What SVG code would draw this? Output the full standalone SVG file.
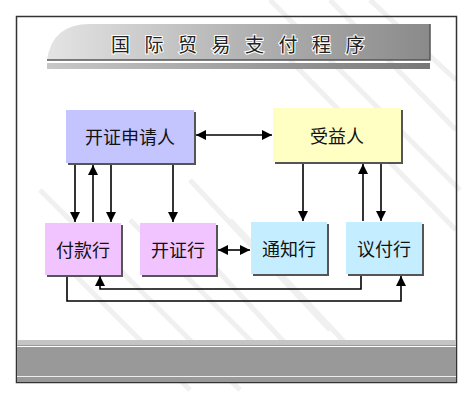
<svg xmlns="http://www.w3.org/2000/svg" width="472" height="400" viewBox="0 0 472 400">
<defs>
<linearGradient id="tg" x1="0" y1="0" x2="1" y2="0">
<stop offset="0" stop-color="#e4e4e4"/>
<stop offset="0.5" stop-color="#b4b4b4"/>
<stop offset="1" stop-color="#8a8a8a"/>
</linearGradient>
<linearGradient id="sg" x1="0" y1="0" x2="1" y2="0">
<stop offset="0" stop-color="#c8c8c8"/>
<stop offset="1" stop-color="#777"/>
</linearGradient>
<marker id="ah" viewBox="0 0 10 10" refX="10" refY="5" markerWidth="10" markerHeight="10" markerUnits="userSpaceOnUse" orient="auto-start-reverse">
<path d="M0,0 L10,5 L0,10 z" fill="#000"/>
</marker>
<style>
.box{stroke:none}
.sh{fill:#555}
.lbl{font-family:"Noto Sans CJK SC","Liberation Sans",sans-serif;font-size:18px;fill:#111;text-anchor:middle;dominant-baseline:central}
.ttl{font-family:"Noto Sans CJK SC","Liberation Sans",sans-serif;font-size:19px;fill:#222;stroke:#fff;stroke-width:2;paint-order:stroke;text-anchor:middle;dominant-baseline:central;letter-spacing:14.5px}
.c{fill:none;stroke:#000;stroke-width:1.6}
.wm{fill:none;stroke:#f0f0f0;stroke-width:5}
</style>
</defs>
<rect width="472" height="400" fill="#fff"/>
<g id="watermark">
<path class="wm" d="M40,190 L240,390"/>
<path class="wm" d="M60,260 L190,390"/>
<path class="wm" d="M190,180 L330,330"/>
<path class="wm" d="M180,230 L310,370"/>
<path class="wm" d="M230,220 L380,380"/>
<path class="wm" d="M270,0 L460,190"/>
<path class="wm" d="M330,0 L456,130"/>
<path class="wm" d="M370,0 L456,80"/>
<path class="wm" d="M290,60 L456,230"/>
<path class="wm" d="M130,220 L290,380"/>
</g>
<rect x="16.5" y="16.5" width="440" height="366" fill="none" stroke="#333" stroke-width="1.5"/>
<g id="title">
<path d="M47,60 Q52,24 90,24 L430,24 L430,60 Z" fill="url(#tg)"/>
<path d="M430,24 L430,60 L47,60" fill="none" stroke="#555" stroke-width="1.5"/>
<rect x="47" y="63" width="383" height="6" fill="url(#sg)"/>
<text class="ttl" x="245" y="43">国际贸易支付程序</text>
</g>
<g id="bottombar">
<rect x="17" y="340" width="439" height="42" fill="#999"/>
<rect x="17" y="340" width="439" height="5" fill="#c4c4c4"/>
<line x1="17" y1="346.5" x2="456" y2="346.5" stroke="#fff" stroke-width="1"/>
<line x1="17" y1="376.5" x2="456" y2="376.5" stroke="#eee" stroke-width="1.2"/>
</g>
<g id="n-applicant">
<rect class="sh" x="68" y="112" width="128" height="53"/>
<rect class="box" x="66" y="110" width="128" height="53" fill="#c4c4ff"/>
<text class="lbl" x="130" y="136">开证申请人</text>
</g>
<g id="n-beneficiary">
<rect class="sh" x="275" y="110" width="128" height="54"/>
<rect class="box" x="273" y="108" width="128" height="54" fill="#ffffc4"/>
<text class="lbl" x="337" y="135">受益人</text>
</g>
<g id="n-paying">
<rect class="sh" x="47" y="225" width="76" height="52"/>
<rect class="box" x="45" y="223" width="76" height="52" fill="#f2c4ff"/>
<text class="lbl" x="83" y="249">付款行</text>
</g>
<g id="n-issuing">
<rect class="sh" x="142" y="225" width="76" height="52"/>
<rect class="box" x="140" y="223" width="76" height="52" fill="#f2c4ff"/>
<text class="lbl" x="178" y="249">开证行</text>
</g>
<g id="n-advising">
<rect class="sh" x="253" y="224" width="76" height="52"/>
<rect class="box" x="251" y="222" width="76" height="52" fill="#c4eeff"/>
<text class="lbl" x="289" y="248">通知行</text>
</g>
<g id="n-negotiating">
<rect class="sh" x="348" y="224" width="76" height="52"/>
<rect class="box" x="346" y="222" width="76" height="52" fill="#c4eeff"/>
<text class="lbl" x="384" y="248">议付行</text>
</g>
<g id="connectors">
<path class="c" d="M196,135 L272,135" marker-start="url(#ah)" marker-end="url(#ah)"/>
<path class="c" d="M75,165 L75,222" marker-end="url(#ah)"/>
<path class="c" d="M93,222 L93,165" marker-end="url(#ah)"/>
<path class="c" d="M111,165 L111,222" marker-end="url(#ah)"/>
<path class="c" d="M173,165 L173,222" marker-end="url(#ah)"/>
<path class="c" d="M218,250 L250,250" marker-start="url(#ah)" marker-end="url(#ah)"/>
<path class="c" d="M303,164 L303,221" marker-end="url(#ah)"/>
<path class="c" d="M363,221 L363,164" marker-end="url(#ah)"/>
<path class="c" d="M381,164 L381,221" marker-end="url(#ah)"/>
<path class="c" d="M361,276 L361,289 L100,289 L100,276" marker-end="url(#ah)"/>
<path class="c" d="M67,277 L67,301 L401,301 L401,276" marker-end="url(#ah)"/>
</g>
</svg>
